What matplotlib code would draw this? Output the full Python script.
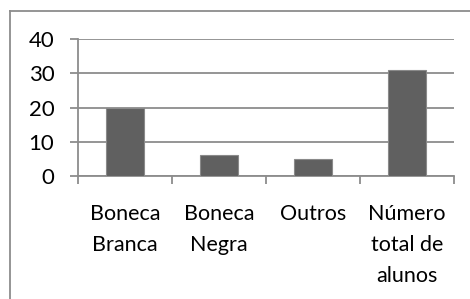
import matplotlib
matplotlib.use("Agg")
import matplotlib.pyplot as plt
from matplotlib.lines import Line2D

categories = ["Boneca\nBranca", "Boneca\nNegra", "Outros", "Número\ntotal de\nalunos"]
values = [20, 6, 5, 31]
yticks = [0, 10, 20, 30, 40]

W, H = 470, 299
fig = plt.figure(figsize=(W/100, H/100), dpi=100)
plt.rcParams['font.family'] = ['Lato', 'DejaVu Sans']

ax = fig.add_axes([78/W, 1-176/H, (454-78)/W, (176-39)/H])
x = list(range(len(categories)))
ax.bar(x, values, width=0.4, color='#606060', edgecolor='#8a8a8a', linewidth=0.8, zorder=3)
ax.set_xlim(-0.5, len(categories)-0.5)
ax.set_ylim(0, 40)
ax.set_yticks(yticks)
ax.set_yticklabels([str(v) for v in yticks], fontsize=16, color='#000000')
ax.yaxis.grid(True, color='#8c8c8c', linewidth=1.3, zorder=0)
ax.set_axisbelow(True)

ax.set_xticks(x)
ax.set_xticklabels(categories, fontsize=15.5, linespacing=1.68, va='top')
ax.set_xticks([i - 0.5 for i in range(len(categories)+1)], minor=True)
ax.tick_params(axis='x', which='major', length=0, pad=20)
ax.tick_params(axis='x', which='minor', length=6, width=1.3, color='#8c8c8c')
ax.tick_params(axis='y', length=6, width=1.3, color='#8c8c8c', pad=11)

for s in ['top', 'right']:
    ax.spines[s].set_visible(False)
for s in ['left', 'bottom']:
    ax.spines[s].set_color('#8c8c8c')
    ax.spines[s].set_linewidth(1.3)

# outer chart frame
fig.add_artist(Line2D([10/W, 10/W], [0, 1-11/H], color='#8c8c8c', linewidth=1.3))
fig.add_artist(Line2D([10/W, 1], [1-11/H, 1-11/H], color='#8c8c8c', linewidth=1.3))

fig.savefig("out.png", dpi=100)
